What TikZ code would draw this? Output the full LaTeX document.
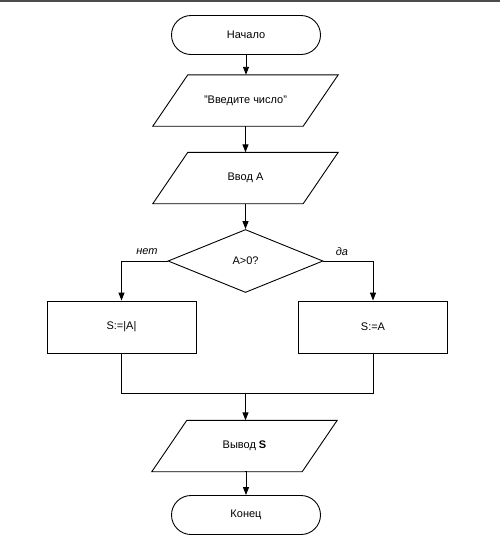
\documentclass[tikz,border=0pt]{standalone}
\usepackage{fontspec}
\setmainfont{Liberation Sans}
\usetikzlibrary{shapes.geometric,arrows.meta}
\begin{document}
\begin{tikzpicture}[x=1pt,y=-1pt,
  every node/.style={font=\fontsize{11}{13}\selectfont},
  line/.style={line width=0.9pt},
  arr/.style={line width=0.9pt,-{Triangle[length=8pt,width=6pt]}},
  term/.style={draw,line width=0.9pt,rectangle,rounded corners=19.5pt,minimum width=149pt,minimum height=39pt,inner sep=0pt},
  io/.style={rectangle,minimum width=185pt,minimum height=51pt,inner sep=0pt},
  proc/.style={draw,line width=0.9pt,rectangle,minimum width=149pt,minimum height=52pt,inner sep=0pt},
  cond/.style={draw,line width=0.9pt,diamond,minimum width=155pt,minimum height=63pt,inner sep=0pt},
  lbl/.style={font=\fontsize{11}{13}\selectfont\itshape}]
\useasboundingbox (0,0) rectangle (500,536);
\draw[line width=1.5pt,black!70] (0,1) -- (500,1);
\node[term] (start) at (246,35) {Начало};
\node[io] (in1) at (245.5,100.5) {"Введите число"};
\node[io] (in2) at (245.5,178) {Ввод А};
\node[cond] (dec) at (245.5,261) {A>0?};
\node[proc] (lb) at (121.5,327) {S:=|A|};
\node[proc] (rb) at (373,327) {S:=A};
\node[io] (out) at (244.5,446) {Вывод \textbf{S}};
\node[term] (end) at (246,515) {Конец};
\foreach \n in {in1,in2,out}{
  \draw[line,line join=miter] (\n.south west) -- ([xshift=-35pt]\n.south east) -- (\n.north east) -- ([xshift=35pt]\n.north west) -- cycle;
}
\coordinate (m) at (245.5,393);
\draw[arr] (start.south) -- (start.south |- in1.north);
\draw[arr] (in1.south) -- (in1.south |- in2.north);
\draw[arr] (in2.south) -- (dec.north);
\draw[arr] (dec.west) -| (lb.north);
\draw[arr] (dec.east) -| (rb.north);
\node[lbl] (no) at (147,252) {нет};
\node[lbl] (yes) at (342,252) {да};
\draw[line] (lb.south) -- (lb.south |- m) -- (rb.south |- m) -- (rb.south);
\draw[arr] (m) -- (m |- out.north);
\draw[arr] (out.south) -- (out.south -| end.north) -- (end.north);
\end{tikzpicture}
\end{document}
